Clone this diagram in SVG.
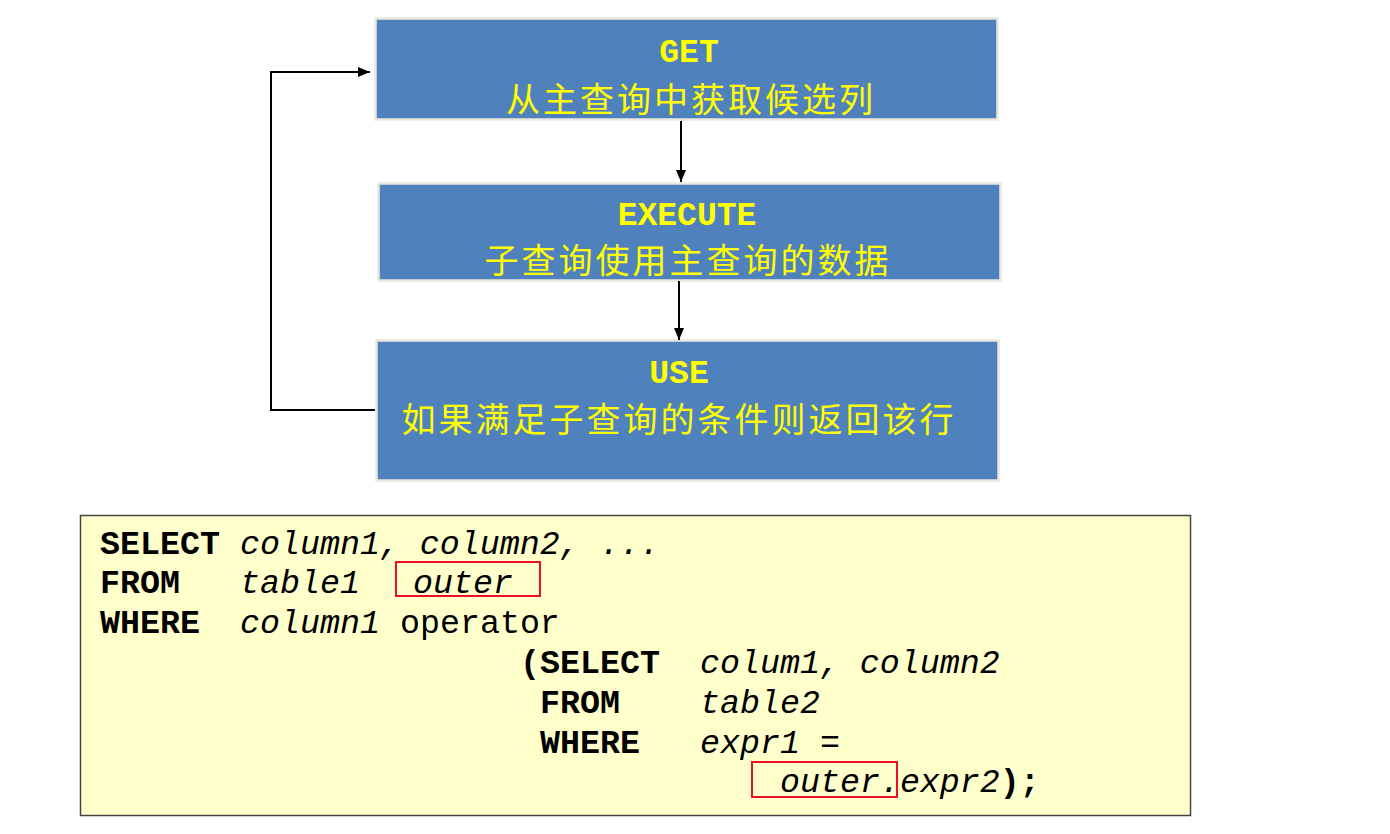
<svg xmlns="http://www.w3.org/2000/svg" width="1390" height="834" viewBox="0 0 1390 834">
<style>
.box{fill:#4f81bd;stroke:#ebe8e0;stroke-width:2.5}
.hd{font-family:"Liberation Mono",monospace;font-weight:bold;font-size:33px;fill:#ffff00;text-anchor:middle}
.cn{font-family:"Noto Sans CJK SC",sans-serif;font-size:34px;letter-spacing:3px;fill:#ffff00;text-anchor:middle}
.conn{fill:none;stroke:#000;stroke-width:2}
.code{font-family:"Liberation Mono",monospace;font-size:33.3px;fill:#000}
.kw{font-weight:bold}
.it{font-style:italic}
.hl{fill:none;stroke:#e8102a;stroke-width:2}
</style>
<defs>
<marker id="ah" viewBox="0 0 12 10" refX="12" refY="5" markerWidth="12" markerHeight="10" markerUnits="userSpaceOnUse" orient="auto">
<path d="M0,0 L12,5 L0,10 z" fill="#000"/>
</marker>
</defs>
<rect width="1390" height="834" fill="#fff"/>
<g id="get">
<rect class="box" x="375.5" y="18.5" width="622" height="101"/>
<text class="hd" x="689" y="62">GET</text>
<text class="cn" x="691" y="112">从主查询中获取候选列</text>
</g>
<g id="execute">
<rect class="box" x="378.5" y="183.5" width="622" height="97"/>
<text class="hd" x="687" y="225">EXECUTE</text>
<text class="cn" x="688" y="273">子查询使用主查询的数据</text>
</g>
<g id="use">
<rect class="box" x="376.5" y="340.5" width="622" height="140"/>
<text class="hd" x="679" y="383">USE</text>
<text class="cn" x="679" y="432">如果满足子查询的条件则返回该行</text>
</g>
<g id="connectors">
<line class="conn" x1="681" y1="121" x2="681" y2="182" marker-end="url(#ah)"/>
<line class="conn" x1="679" y1="281" x2="679" y2="340" marker-end="url(#ah)"/>
<polyline class="conn" points="375,410 271,410 271,72 370,72" marker-end="url(#ah)"/>
</g>
<g id="code">
<rect x="80.5" y="515.5" width="1110" height="300" fill="#ffffcc" stroke="#444" stroke-width="1.5"/>
<text class="code" y="554"><tspan class="kw" x="100">SELECT</tspan><tspan class="it" x="240">column1, column2, ...</tspan></text>
<text class="code" y="593"><tspan class="kw" x="100">FROM</tspan><tspan class="it" x="240">table1</tspan><tspan class="it" x="413">outer</tspan></text>
<text class="code" y="633"><tspan class="kw" x="100">WHERE</tspan><tspan class="it" x="240">column1</tspan><tspan x="400">operator</tspan></text>
<text class="code" y="673"><tspan class="kw" x="520">(SELECT</tspan><tspan class="it" x="700">colum1, column2</tspan></text>
<text class="code" y="713"><tspan class="kw" x="540">FROM</tspan><tspan class="it" x="700">table2</tspan></text>
<text class="code" y="753"><tspan class="kw" x="540">WHERE</tspan><tspan class="it" x="700">expr1 =</tspan></text>
<text class="code" y="792"><tspan class="it" x="780">outer.expr2</tspan><tspan class="kw">);</tspan></text>
<rect class="hl" x="396" y="562" width="144" height="34"/>
<rect class="hl" x="752" y="762" width="145" height="35"/>
</g>
</svg>
